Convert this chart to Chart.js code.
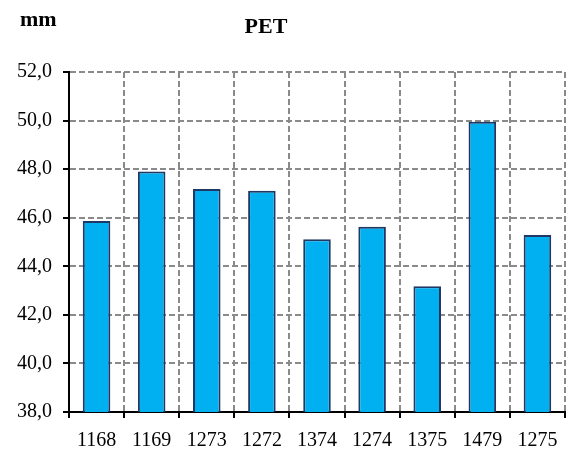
<!DOCTYPE html>
<html>
<head>
<meta charset="utf-8">
<script src="https://cdn.jsdelivr.net/npm/chart.js@4/dist/chart.umd.min.js"></script>
<style>
  html, body { margin: 0; padding: 0; background: #fff; }
  #wrap { position: relative; width: 578px; height: 455px; }
</style>
</head>
<body>
<div id="wrap"><canvas id="c" width="578" height="455"></canvas></div>
<script>
const categories = ['1168', '1169', '1273', '1272', '1374', '1274', '1375', '1479', '1275'];
const values = [45.86, 47.9, 47.18, 47.11, 45.11, 45.63, 43.18, 49.95, 45.29];
const yTickValues = [38, 40, 42, 44, 46, 48, 50, 52];
const yTickLabels = ['38,0', '40,0', '42,0', '44,0', '46,0', '48,0', '50,0', '52,0'];
const chartTitle = 'PET';
const unitLabel = 'mm';

const FONT = "'Liberation Serif', 'Times New Roman', serif";

const headerText = {
  id: 'headerText',
  afterDraw(chart) {
    const ctx = chart.ctx;
    ctx.save();
    ctx.fillStyle = '#000';
    ctx.font = 'bold 22px ' + FONT;
    ctx.textBaseline = 'alphabetic';
    ctx.textAlign = 'left';
    ctx.fillText(unitLabel, 20, 26);
    ctx.textAlign = 'center';
    ctx.fillText(chartTitle, 266, 33);
    ctx.restore();
  }
};

new Chart(document.getElementById('c'), {
  type: 'bar',
  data: {
    labels: categories,
    datasets: [{
      data: values,
      backgroundColor: '#00B0F0',
      borderColor: '#1F3864',
      borderWidth: 2,
      borderSkipped: 'start',
      barPercentage: 0.5,
      categoryPercentage: 1.0
    }]
  },
  options: {
    responsive: false,
    animation: false,
    devicePixelRatio: 1,
    layout: { padding: { left: 0, right: 13, top: 72, bottom: 0 } },
    plugins: {
      legend: { display: false },
      title: { display: false },
      tooltip: { enabled: false }
    },
    scales: {
      x: {
        offset: true,
        grid: {
          offset: true,
          color: '#8a8a8a',
          lineWidth: 2,
          drawTicks: true,
          tickLength: 6,
          tickColor: '#000',
          tickWidth: 2,
          tickBorderDash: []
        },
        border: { display: true, color: '#000', width: 2, dash: [6, 3] },
        ticks: {
          color: '#000',
          font: { family: FONT, size: 20 },
          padding: 11,
          maxRotation: 0,
          autoSkip: false
        },
        afterFit(scale) { scale.height = 43; }
      },
      y: {
        min: 38,
        max: 52,
        afterBuildTicks(scale) {
          scale.ticks = yTickValues.map(v => ({ value: v }));
        },
        grid: {
          color: '#8a8a8a',
          lineWidth: 2,
          drawTicks: true,
          tickLength: 6,
          tickColor: '#000',
          tickWidth: 2,
          tickBorderDash: []
        },
        border: { display: true, color: '#000', width: 2, dash: [6, 3] },
        ticks: {
          color: '#000',
          font: { family: FONT, size: 20 },
          padding: 11,
          callback(value) {
            const i = yTickValues.indexOf(value);
            return i >= 0 ? yTickLabels[i] : '';
          }
        },
        afterFit(scale) { scale.width = 69; }
      }
    }
  },
  plugins: [headerText]
});
</script>
</body>
</html>
